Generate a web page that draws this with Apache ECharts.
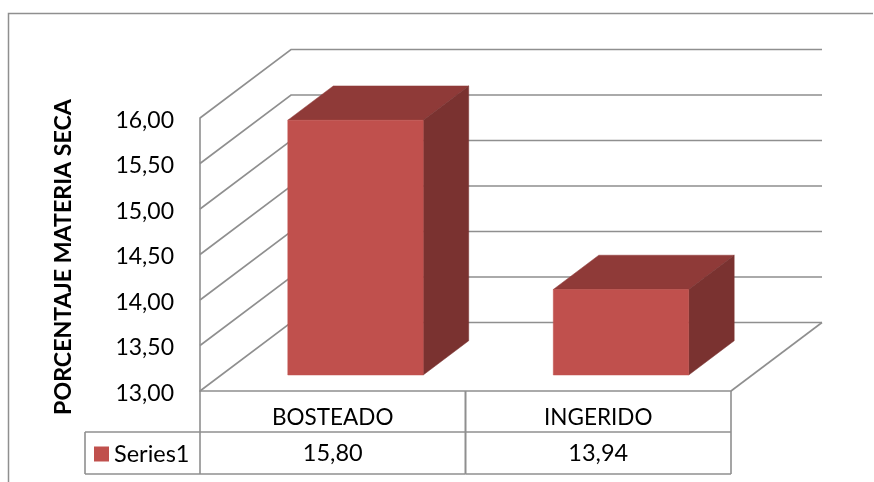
<!DOCTYPE html>
<html>
<head>
<meta charset="utf-8">
<style>html,body{margin:0;padding:0;background:#fff}#c{width:874px;height:482px}</style>
<script src="https://cdn.jsdelivr.net/npm/echarts@6/dist/echarts.min.js"></script>
</head>
<body>
<div id="c"></div>
<script>
const categories = ['BOSTEADO', 'INGERIDO'];
const values = [15.80, 13.94];
const tickValues = [13, 13.5, 14, 14.5, 15, 15.5, 16];
const seriesName = 'Series1';
const axisTitle = 'PORCENTAJE MATERIA SECA';

const FONT = 'Lato, "Open Sans", sans-serif';
const LINE = '#8F8F8F';
const LW = 1.6;
const DEPTH = [91, -68.5];
const dec = v => v.toFixed(2).replace('.', ',');

const chart = echarts.init(document.getElementById('c'), null, {renderer: 'canvas'});

function wallItem(params, api) {
  const cs = params.coordSys;
  const y = api.coord([0, api.value(1)])[1];
  const x0 = cs.x, x1 = cs.x + cs.width;
  const children = [{
    type: 'polyline',
    shape: {points: [[x0, y], [x0 + DEPTH[0], y + DEPTH[1]], [x1 + DEPTH[0], y + DEPTH[1]]]},
    style: {stroke: LINE, lineWidth: LW, fill: null}
  }];
  if (api.value(1) === tickValues[0]) {
    children.push({
      type: 'line',
      shape: {x1: x1, y1: y, x2: x1 + DEPTH[0], y2: y + DEPTH[1]},
      style: {stroke: LINE, lineWidth: LW}
    });
  }
  return {type: 'group', children};
}

function barItem(params, api) {
  const band = api.size([1, 0])[0];
  const c = api.coord([api.value(0), api.value(1)]);
  const base = api.coord([api.value(0), tickValues[0]]);
  const w = band * 0.51;
  const fx = DEPTH[0] * 0.25, fy = -16;
  const dx = DEPTH[0] * 0.5, dy = DEPTH[1] * 0.5;
  const l = c[0] + fx - w / 2, r = l + w;
  const t = c[1] + fy, b = base[1] + fy;
  const poly = (pts, fill) => ({type: 'polygon', shape: {points: pts}, style: {fill, stroke: fill, lineWidth: 0.5}});
  return {type: 'group', children: [
    poly([[l, t], [l + dx, t + dy], [r + dx, t + dy], [r, t]], '#8F3A38'),
    poly([[r, t], [r + dx, t + dy], [r + dx, b + dy], [r, b]], '#7A3230'),
    poly([[l, t], [r, t], [r, b], [l, b]], '#C0504D')
  ]};
}

function cellItem(params, api) {
  const cs = params.coordSys;
  const band = api.size([1, 0])[0];
  const cx = api.coord([api.value(0), tickValues[0]])[0];
  const l = cx - band / 2, r = cx + band / 2;
  const top = cs.y + cs.height, mid = top + 41, bot = top + 83;
  const line = (x1, y1, x2, y2) => ({type: 'line', shape: {x1, y1, x2, y2}, style: {stroke: LINE, lineWidth: LW}});
  const children = [
    line(l, top, l, bot), line(r, top, r, bot),
    line(l, mid, r, mid), line(l, bot, r, bot),
    {type: 'text', style: {text: dec(api.value(1)), x: cx, y: (mid + bot) / 2, align: 'center', verticalAlign: 'middle',
      font: '23.5px ' + FONT, fill: '#000'}}
  ];
  if (api.value(0) === 0) {
    const left = 85;
    children.push(line(left, mid, l, mid), line(left, bot, l, bot), line(left, mid, left, bot));
  }
  return {type: 'group', children};
}

chart.setOption({
  animation: false,
  backgroundColor: '#fff',
  grid: {left: 200, right: 143, top: 118, bottom: 91, containLabel: false},
  legend: {
    show: true, left: 94, top: 442, data: [seriesName], icon: 'rect', itemWidth: 15, itemHeight: 15, itemGap: 6,
    padding: 0, textStyle: {fontFamily: FONT, fontSize: 23.5, color: '#000'}
  },
  xAxis: {
    type: 'category', data: categories,
    axisLine: {show: true, lineStyle: {color: LINE, width: LW}},
    axisTick: {show: false},
    splitLine: {show: false},
    axisLabel: {color: '#000', fontFamily: FONT, fontSize: 22.5, margin: 15}
  },
  yAxis: {
    type: 'value', min: 13, max: 16, interval: 0.5,
    name: axisTitle, nameLocation: 'middle', nameRotate: 90, nameGap: 136,
    nameTextStyle: {color: '#000', fontFamily: FONT, fontSize: 23.2, fontWeight: 'bold', verticalAlign: 'middle', padding: [0, 5, 0, 0]},
    axisLine: {show: true, lineStyle: {color: LINE, width: LW}},
    axisTick: {show: false},
    splitLine: {show: false},
    axisLabel: {
      margin: 26,
      formatter: v => '{a|' + dec(v) + '}',
      rich: {a: {color: '#000', fontFamily: FONT, fontSize: 23, padding: [5, 0, 0, 0]}}
    }
  },
  series: [
    {type: 'custom', name: 'walls', z: 1, silent: true, renderItem: wallItem,
     data: tickValues.map(v => [0, v]), encode: {x: 0, y: 1}},
    {type: 'custom', name: 'cells', z: 1, silent: true, renderItem: cellItem,
     data: values.map((v, i) => [i, v]), encode: {x: 0, y: 1}},
    {type: 'custom', name: seriesName, z: 3, silent: true, renderItem: barItem, itemStyle: {color: '#C0504D'},
     data: values.map((v, i) => [i, v]), encode: {x: 0, y: 1}}
  ],
  graphic: [{
    type: 'polyline', silent: true, z: 0,
    shape: {points: [[8.5, 482], [8.5, 13.5], [873, 13.5]]},
    style: {stroke: LINE, lineWidth: 1.5, fill: null}
  }]
});
</script>
</body>
</html>
